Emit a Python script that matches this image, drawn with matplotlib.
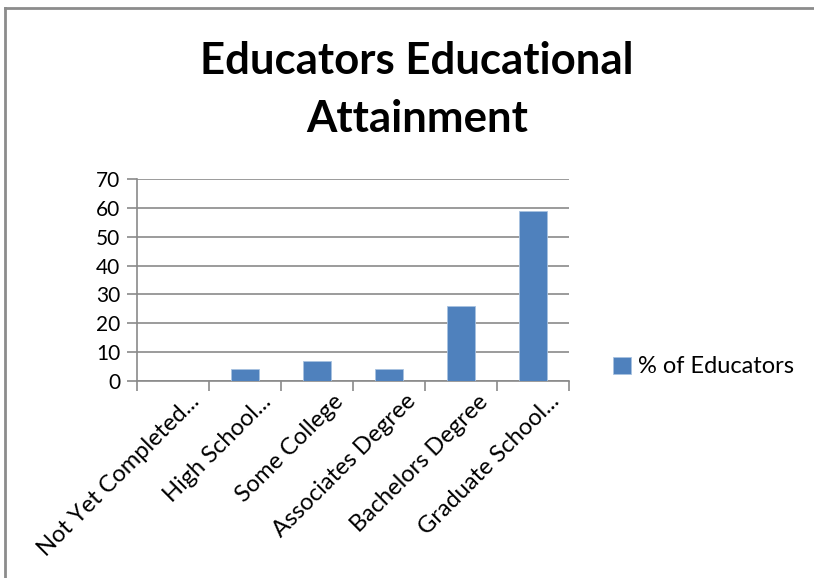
import numpy as np
import matplotlib.pyplot as plt
from matplotlib.lines import Line2D

categories = ['Not Yet Completed...', 'High School...', 'Some College',
              'Associates Degree', 'Bachelors Degree', 'Graduate School...']
pct_educators = [0, 4, 7, 4, 26, 59]
yticks = [0, 10, 20, 30, 40, 50, 60, 70]

plt.rcParams['font.family'] = ['Lato', 'DejaVu Sans']

W, H = 814, 578
fig = plt.figure(figsize=(W / 100, H / 100), dpi=100)
fig.patch.set_facecolor('white')

# plot area in pixel coords of the reference
x0, x1, y0, y1 = 137, 569, 179, 381
ax = fig.add_axes([x0 / W, 1 - y1 / H, (x1 - x0) / W, (y1 - y0) / H])

grey = '#8a8a8a'
x = np.arange(len(categories))
ax.bar(x, pct_educators, width=0.4, color='#4f81bd', edgecolor='#a8c2e0',
       linewidth=0.6, zorder=3, label='% of Educators')

ax.set_xlim(-0.5, len(categories) - 0.5)
ax.set_ylim(0, 70)
ax.set_yticks(yticks)
ax.yaxis.grid(True, color=grey, linewidth=1.2, zorder=0)
ax.set_axisbelow(True)

# tick marks sit between categories
ax.set_xticks(np.arange(len(categories) + 1) - 0.5)
ax.set_xticklabels([])
ax.set_xticks(x + 0.22, minor=True)
ax.set_xticklabels(categories, minor=True, rotation=45, ha='right',
                   rotation_mode='anchor', fontsize=17)
ax.tick_params(axis='x', which='minor', length=0, pad=7)
ax.tick_params(axis='x', which='major', length=7, color=grey, width=1.2)
ax.tick_params(axis='y', length=7, color=grey, width=1.2, labelsize=15, pad=5)

for side in ['top', 'right']:
    ax.spines[side].set_visible(False)
for side in ['left', 'bottom']:
    ax.spines[side].set_color(grey)
    ax.spines[side].set_linewidth(1.2)

fig.text(417 / W, 1 - 61 / H, 'Educators Educational', ha='center', va='center',
         fontsize=31.5, fontweight='bold')
fig.text(417 / W, 1 - 119 / H, 'Attainment', ha='center', va='center',
         fontsize=31.5, fontweight='bold')

fig.legend(loc='center left', bbox_to_anchor=(592 / W, 1 - 367 / H),
           frameon=False, fontsize=17, handlelength=0.75, handleheight=0.75,
           handletextpad=0.3)

# chart border (only top and left visible in the crop)
fig.add_artist(Line2D([5 / W, 1], [1 - 8 / H, 1 - 8 / H], color='#8c8c8c',
                      linewidth=2, transform=fig.transFigure))
fig.add_artist(Line2D([5 / W, 5 / W], [0, 1 - 8 / H], color='#8c8c8c',
                      linewidth=2, transform=fig.transFigure))

fig.savefig('out.png', dpi=100)
